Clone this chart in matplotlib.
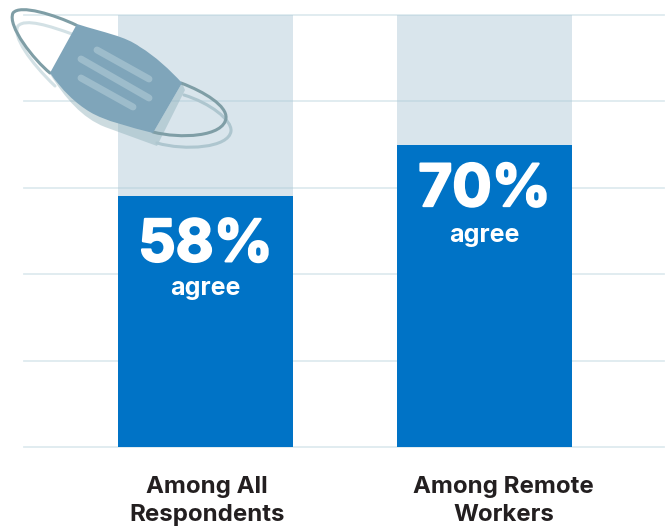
import matplotlib
matplotlib.use("Agg")
import matplotlib.pyplot as plt
import matplotlib.patheffects as pe
from matplotlib.path import Path
from matplotlib.patches import PathPatch
from matplotlib.transforms import Affine2D, ScaledTranslation

categories = ["Among All\nRespondents", "Among Remote\nWorkers"]
agree_values = [58, 70]
full_scale = [100, 100]
grid_values = [0, 20, 40, 60, 80, 100]

W, H = 668, 527
BLUE = "#0073c6"
PALE = "#d9e5ec"
INK = "#231f20"
FONT = "Inter"

fig = plt.figure(figsize=(W / 100, H / 100), dpi=100, facecolor="white")
ax = fig.add_axes([24 / W, (H - 447) / H, 640 / W, 432 / H])
ax.set_xlim(-0.6505, 1.6434)
ax.set_ylim(0, 100)
for side in ax.spines.values():
    side.set_visible(False)
ax.patch.set_visible(False)

x = list(range(len(categories)))
ax.bar(x, full_scale, width=0.627, color=PALE, zorder=1)
ax.set_yticks(grid_values)
ax.tick_params(axis="y", left=False, labelleft=False)
for v in grid_values:
    ax.axhline(v, color="#a9cad6", alpha=0.38, lw=1.3, zorder=2, clip_on=False)
bars = ax.bar(x, agree_values, width=0.627, color=BLUE, zorder=3)

ax.set_xticks(x, categories)
ax.tick_params(axis="x", bottom=False, pad=17.5)
# category captions sit slightly right of their bars, the second one more so
for lab, shift_px in zip(ax.get_xticklabels(), [1.5, 19]):
    lab.set(fontfamily=FONT, fontweight="bold", fontsize=17.3, color=INK, linespacing=1.36)
    lab.set_transform(lab.get_transform() + ScaledTranslation(shift_px / 100, 0, fig.dpi_scale_trans))

for rect, val, drop, sub_drop in zip(bars, agree_values, [16.5, 14], [58, 57.5]):
    cx = rect.get_x() + rect.get_width() / 2
    big = ax.annotate(f"{val}%", (cx, val), xytext=(0, -drop), textcoords="offset points",
                      ha="center", va="top", color="white", fontsize=42,
                      fontfamily=FONT, fontweight="bold", zorder=4)
    big.set_path_effects([pe.withStroke(linewidth=1.6, foreground="white")])
    ax.annotate("agree", (cx, val), xytext=(0, -sub_drop), textcoords="offset points",
                ha="center", va="top", color="white", fontsize=18,
                fontfamily=FONT, fontweight="bold", zorder=4)

# Decorative face mask, laid out in pixel space with the origin at top left
to_px = Affine2D().scale(1, -1).translate(0, H)
M, C, Q = Path.MOVETO, Path.CURVE4, Path.LINETO
Z = Path.CLOSEPOLY


def add(verts, codes, z=6, **kw):
    fig.add_artist(PathPatch(Path(verts, codes), transform=to_px, zorder=z, **kw))


def curve(*pts):
    return list(pts), [M] + [C] * (len(pts) - 1)


# soft strap shadows
v, c = curve((72, 34), (50, 26), (25, 18), (18, 26), (12, 36), (30, 62), (55, 86))
add(v, c, fc="none", ec="#d3e1e5", lw=2.2, capstyle="round")
v, c = curve((184, 95), (210, 103), (232, 120), (231, 131), (229, 148), (185, 151), (157, 143))
add(v, c, fc="none", ec="#aec6cf", lw=2.2, capstyle="round")

# mask shadow
v = [(50, 74), (65, 98), (82, 118), (105, 127), (157, 146), (185, 90), (182, 83), (153, 133), (50, 74), (50, 74)]
cd = [M, C, C, C, Q, Q, Q, Q, Q, Z]
add(v, cd, z=5, fc="#8fb0ba", ec="none", alpha=0.45)

# straps
v, c = curve((76, 25), (55, 15), (20, 4), (13, 13), (7, 26), (34, 60), (50, 73))
add(v, c, fc="none", ec="#7f9ea6", lw=2.2, capstyle="round")
v, c = curve((181, 83), (205, 92), (227, 106), (226, 118), (224, 137), (180, 139), (153, 132))
add(v, c, fc="none", ec="#7f9ea6", lw=2.2, capstyle="round")

# mask body
v = [(77, 24), (105, 33), (125, 36), (140, 47), (155, 56), (170, 70), (182, 83),
     (153, 133), (130, 127), (105, 121), (90, 112), (75, 103), (62, 90), (50, 73), (77, 24), (77, 24)]
cd = [M, C, C, C, C, C, C, Q, C, C, C, C, C, C, Q, Z]
add(v, cd, z=7, fc="#7fa5ba", ec="none")

# pleats
for (x0, y0), (x1, y1) in [((97, 50), (149, 79)), ((81, 59), (149, 98)), ((81, 78), (133, 107))]:
    add([(x0, y0), (x1, y1)], [M, Q], z=8, fc="none", ec="#9dbccb", lw=5.0, capstyle="round")

fig.savefig("out.png", dpi=100, facecolor="white")
